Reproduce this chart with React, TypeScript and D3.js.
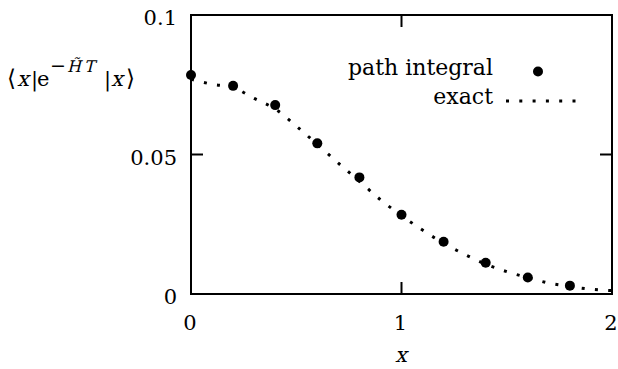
import React from "react";
import * as d3 from "d3";

const xPI = [0, 0.2, 0.4, 0.6, 0.8, 1.0, 1.2, 1.4, 1.6, 1.8];
const yPI = [0.0785, 0.0746, 0.0677, 0.054, 0.0418, 0.0284, 0.0187, 0.0112, 0.0059, 0.003];
const xExact = [0, 0.1, 0.2, 0.3, 0.4, 0.5, 0.6, 0.7, 0.8, 0.9, 1.0, 1.1, 1.2, 1.3, 1.4, 1.5, 1.6, 1.7, 1.8, 1.9, 2.0];
const yExact = [0.077, 0.0752, 0.074, 0.0701, 0.0663, 0.0602, 0.0536, 0.0469, 0.0404, 0.0338, 0.0281, 0.0229, 0.0182, 0.0142, 0.0107, 0.008, 0.0059, 0.0039, 0.0027, 0.0017, 0.0012];
const xTicks = [0, 1, 2];
const yTicks = [0, 0.05, 0.1];
const yTickLabels = ["0", "0.05", "0.1"];
const legendLabels = ["path integral", "exact"];

const W = 618;
const H = 369;
const L = 191, R = 612, T = 15, B = 294;
const FONT = "DejaVu Serif, Liberation Serif, serif";
const FS = 21;
const ts: React.CSSProperties = { fontFamily: FONT, fontSize: FS };

function Ital({ x, y, size, anchor, children }: { x: number; y: number; size: number; anchor?: string; children: React.ReactNode }) {
  return (
    <g transform={`translate(${x},${y}) skewX(-14)`}>
      <text x={0} y={0} style={{ fontFamily: FONT, fontSize: size }} textAnchor={anchor || "start"}>
        {children}
      </text>
    </g>
  );
}

export default function App() {
  const x = d3.scaleLinear().domain([0, 2]).range([L, R]);
  const y = d3.scaleLinear().domain([0, 0.1]).range([B, T]);
  const exactPts: [number, number][] = xExact.map((v, i) => [v, yExact[i]]);
  const line = d3
    .line<[number, number]>()
    .x((d) => x(d[0]))
    .y((d) => y(d[1]))
    .curve(d3.curveMonotoneX);
  const tick = 12;
  const dash = "3 10.3";
  const yl = 86;
  const ys = yl - 14;
  return (
    <svg
      width={W}
      height={H}
      style={{ position: "absolute", left: 0, top: 0, background: "#fff" }}
    >
      <rect x={0} y={0} width={W} height={H} fill="#fff" />
      {xTicks.map((t) => (
        <g key={"xt" + t}>
          <line x1={x(t)} x2={x(t)} y1={B} y2={B - tick} stroke="#000" strokeWidth={2} />
          <line x1={x(t)} x2={x(t)} y1={T} y2={T + tick} stroke="#000" strokeWidth={2} />
          <text x={x(t) - 1} y={B + 36} style={ts} textAnchor="middle">
            {String(t)}
          </text>
        </g>
      ))}
      {yTicks.map((t, i) => (
        <g key={"yt" + t}>
          <line x1={L} x2={L + tick} y1={y(t)} y2={y(t)} stroke="#000" strokeWidth={2} />
          <line x1={R} x2={R - tick} y1={y(t)} y2={y(t)} stroke="#000" strokeWidth={2} />
          <text x={177} y={y(t) + 10} style={ts} textAnchor="end">
            {yTickLabels[i]}
          </text>
        </g>
      ))}
      <path d={line(exactPts) || ""} fill="none" stroke="#000" strokeWidth={3} strokeDasharray={dash} />
      {xPI.map((v, i) => (
        <circle key={"p" + i} cx={x(v)} cy={y(yPI[i])} r={5} fill="#000" />
      ))}
      <rect x={L} y={T} width={R - L} height={B - T} fill="none" stroke="#000" strokeWidth={2} />
      <text x={493} y={75} style={{ ...ts, fontSize: 22 }} textAnchor="end">
        {legendLabels[0]}
      </text>
      <circle cx={538} cy={71.5} r={5} fill="#000" />
      <text x={493} y={104} style={{ ...ts, fontSize: 22 }} textAnchor="end">
        {legendLabels[1]}
      </text>
      <line x1={506} x2={578} y1={101} y2={101} stroke="#000" strokeWidth={3} strokeDasharray={dash} />
      <Ital x={401} y={362} size={21} anchor="middle">x</Ital>
      <g>
        <text x={7} y={yl} style={{ ...ts, fontSize: 23 }}>⟨</text>
        <Ital x={17} y={yl} size={21}>x</Ital>
        <text x={31} y={yl} style={ts}>|</text>
        <text x={37} y={yl} style={ts}>e</text>
        <text x={50} y={ys} style={{ ...ts, fontSize: 19 }}>−</text>
        <Ital x={67} y={ys} size={16}>H̃</Ital>
        <Ital x={84} y={ys} size={16}>T</Ital>
        <text x={104} y={yl} style={ts}>|</text>
        <Ital x={111} y={yl} size={21}>x</Ital>
        <text x={126} y={yl} style={{ ...ts, fontSize: 23 }}>⟩</text>
      </g>
    </svg>
  );
}
